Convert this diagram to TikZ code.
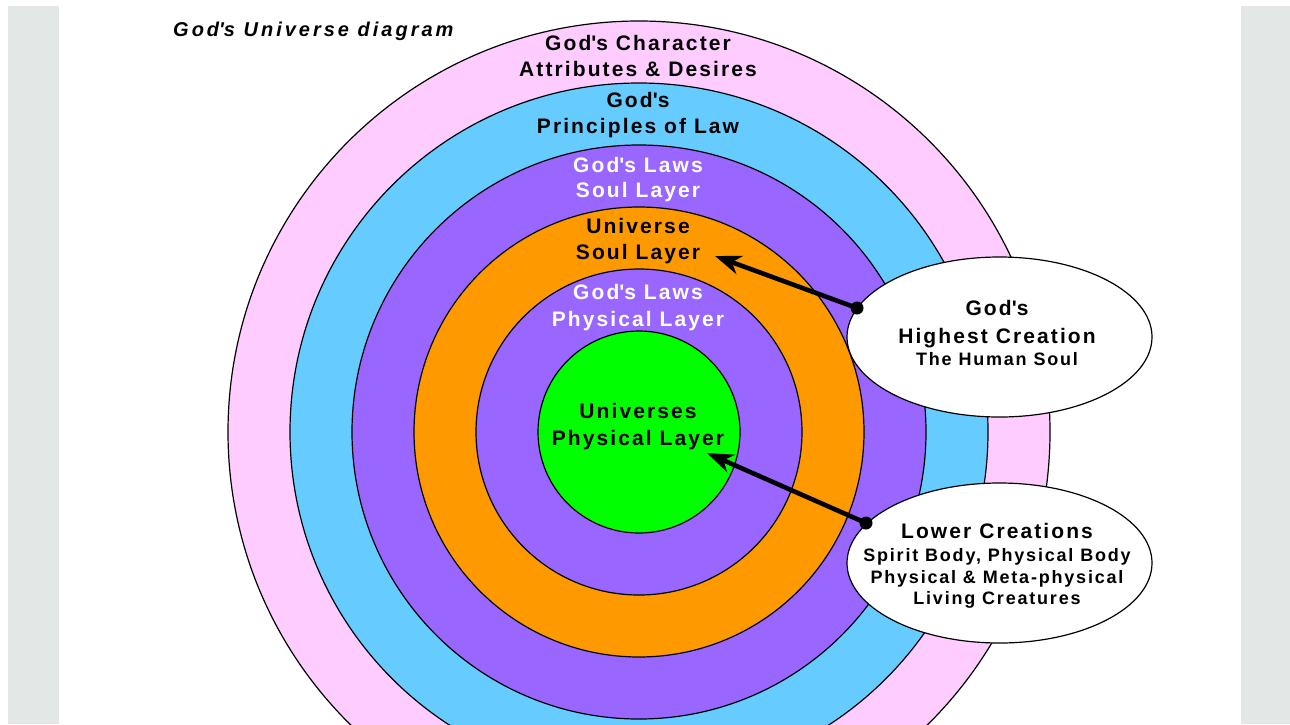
\documentclass[tikz,border=0pt]{standalone}
\usepackage{fontspec}
\setmainfont{Liberation Sans}[LetterSpace=10]
\newfontfamily\titlefont{Liberation Sans}[LetterSpace=15]
\usetikzlibrary{shapes.geometric,arrows.meta}
\definecolor{ringpink}{HTML}{FFCCFF}
\definecolor{ringblue}{HTML}{66CCFF}
\definecolor{ringpurple}{HTML}{9966FF}
\definecolor{ringorange}{HTML}{FF9900}
\definecolor{ringgreen}{HTML}{00FF00}
\definecolor{bandgrey}{HTML}{E3E7E6}
\newcommand{\apo}{\textquotesingle}
\tikzset{
  ring/.style={draw=black, line width=1.2pt},
  lblbig/.style={font=\fontsize{21}{24}\selectfont\bfseries, anchor=base, inner sep=0pt},
  lblsmall/.style={font=\fontsize{18}{21}\selectfont\bfseries, anchor=base, inner sep=0pt},
  lblwhite/.style={lblbig, text=white},
  bubble/.style={ellipse, draw=black, line width=1.2pt, fill=white, minimum width=305pt, minimum height=160pt, inner sep=0pt},
  dotnode/.style={circle, fill=black, minimum size=13pt, inner sep=0pt},
  pointer/.style={line width=4.6pt, -{Stealth[length=26pt,width=19pt,inset=8pt]}}
}
\begin{document}
\begin{tikzpicture}[x=1pt,y=-1pt]
\useasboundingbox (0,0) rectangle (1290,724);
\clip (0,0) rectangle (1290,724);
\fill[bandgrey] (8,6) rectangle (59,724);
\fill[bandgrey] (1241,6) rectangle (1290,724);
\coordinate (c) at (639,432);
\foreach \r/\col in {411/ringpink,349/ringblue,287/ringpurple,225/ringorange,163/ringpurple,101/ringgreen}
  \path[ring, fill=\col] (c) circle[radius=\r pt];
% title
\node[font=\fontsize{20}{24}\titlefont\bfseries\itshape, anchor=base west, inner sep=0pt] (title) at (173,36) {God\apo s Universe diagram};
% ring labels
\node[lblbig] (t1a) at (638,50) {God\apo s Character};
\node[lblbig] (t1b) at (638,76) {Attributes \& Desires};
\node[lblbig] (t2a) at (638,107) {God\apo s};
\node[lblbig] (t2b) at (638,133) {Principles of Law};
\node[lblwhite] (t3a) at (638,172) {God\apo s Laws};
\node[lblwhite] (t3b) at (638,197) {Soul Layer};
\node[lblbig] (t4a) at (638,233) {Universe};
\node[lblbig] (t4b) at (638,259) {Soul Layer};
\node[lblwhite] (t5a) at (638,299) {God\apo s Laws};
\node[lblwhite] (t5b) at (638,326) {Physical Layer};
\node[lblbig] (t6a) at (638,418) {Universes};
\node[lblbig] (t6b) at (638,445) {Physical Layer};
% bubbles
\node[bubble] (hi) at (999.5,337) {};
\node[bubble] (lo) at (999.5,563) {};
\node[lblbig] (h1) at (997,315) {God\apo s};
\node[lblbig] (h2) at (997,343) {Highest Creation};
\node[lblsmall] (h3) at (997,365) {The Human Soul};
\node[lblbig] (l1) at (997,538) {Lower Creations};
\node[lblsmall] (l2) at (997,561) {Spirit Body, Physical Body};
\node[lblsmall] (l3) at (997,583) {Physical \& Meta-physical};
\node[lblsmall] (l4) at (997,604) {Living Creatures};
% pointers
\node[dotnode] (dhi) at (857,308) {};
\node[dotnode] (dlo) at (866,523) {};
\coordinate (thi) at (715,256);
\coordinate (tlo) at (707,453);
\draw[pointer] (dhi.center) -- (thi);
\draw[pointer] (dlo.center) -- (tlo);
\end{tikzpicture}
\end{document}
